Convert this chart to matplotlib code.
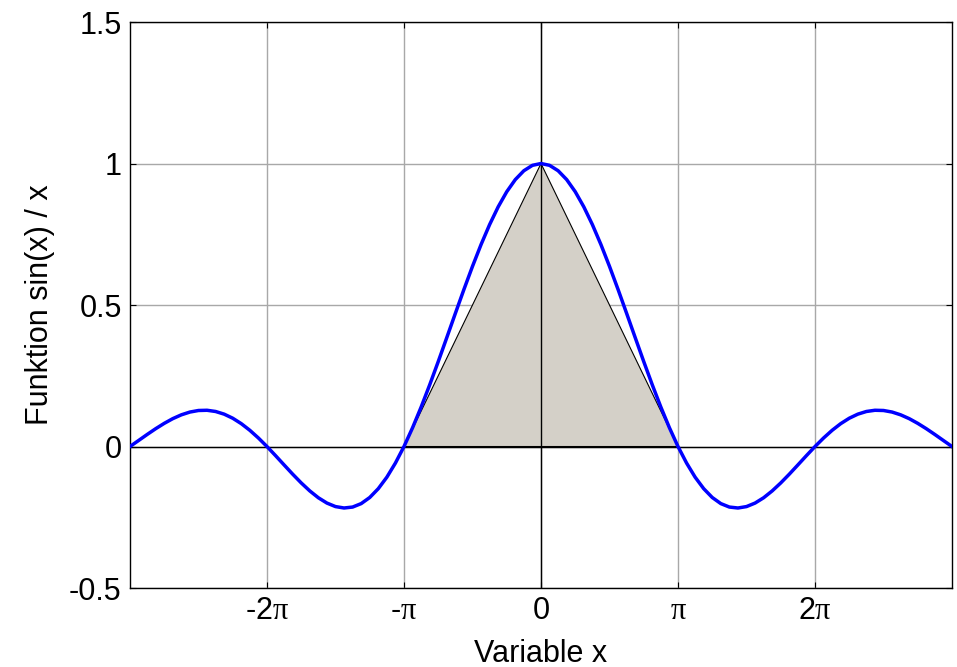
import numpy as np
import matplotlib.pyplot as plt

plt.rcParams['font.family'] = ['Liberation Sans', 'DejaVu Sans']
# upright serif pi, as in the original
plt.rcParams['mathtext.fontset'] = 'custom'
plt.rcParams['mathtext.rm'] = 'Liberation Sans'
plt.rcParams['mathtext.it'] = 'Liberation Serif'

# samples of the curve every pi/16, from -3pi to 3pi (x in units of pi)
x_pi = np.linspace(-3, 3, 97)
half = [0.0211, 0.0424, 0.0629, 0.0818, 0.0985, 0.1120, 0.1218,
        0.1273, 0.1281, 0.1238, 0.1144, 0.1000, 0.0808, 0.0573, 0.0301,
        0.0, -0.0321, -0.0650, -0.0976, -0.1286, -0.1568, -0.1810, -0.1998,
        -0.2122, -0.2172, -0.2139, -0.2017, -0.1801, -0.1489, -0.1083, -0.0584,
        0.0, 0.0662, 0.1392, 0.2177, 0.3001, 0.3850, 0.4705, 0.5550,
        0.6366, 0.7136, 0.7842, 0.8469, 0.9003, 0.9432, 0.9745, 0.9936]
y_vals = [0.0] + half + [1.0] + half[::-1] + [0.0]

# shaded triangle
tri_x_pi = [-1, 0, 1]
tri_y = [0, 1, 0]

tick_pos = [-2, -1, 0, 1, 2]
tick_labels = [r'-2$\pi$', r'-$\pi$', '0', r'$\pi$', r'2$\pi$']
ytick_pos = [-0.5, 0, 0.5, 1, 1.5]
ytick_labels = ['-0.5', '0', '0.5', '1', '1.5']

fig = plt.figure(figsize=(9.57, 6.67), dpi=100)
ax = fig.add_axes([0.1358, 0.1184, 0.8590, 0.8486])

x = np.array(x_pi) * np.pi
ax.fill(np.array(tri_x_pi) * np.pi, tri_y, facecolor='#d4d0c8', edgecolor='black', linewidth=0.8, zorder=2)
ax.axhline(0, color='black', linewidth=1.0, zorder=2)
ax.axvline(0, color='black', linewidth=1.0, zorder=2)
ax.plot(x, y_vals, color='#0000ff', linewidth=2.5, zorder=3)

ax.set_xlim(-3 * np.pi, 3 * np.pi)
ax.set_ylim(-0.5, 1.5)
ax.set_xticks(np.array(tick_pos) * np.pi)
ax.set_xticklabels(tick_labels)
ax.set_yticks(ytick_pos)
ax.set_yticklabels(ytick_labels)
ax.tick_params(direction='in', length=4, width=0.8, labelsize=22, top=True, right=True, pad=6)
ax.grid(True, color='#a8a8a8', linewidth=1.0, zorder=0)
ax.set_axisbelow(True)
for s in ax.spines.values():
    s.set_linewidth(1.0)

ax.set_xlabel('Variable x', fontsize=22, labelpad=9)
ax.set_ylabel('Funktion sin(x) / x', fontsize=22, labelpad=10)

fig.savefig('out.png', dpi=100)
